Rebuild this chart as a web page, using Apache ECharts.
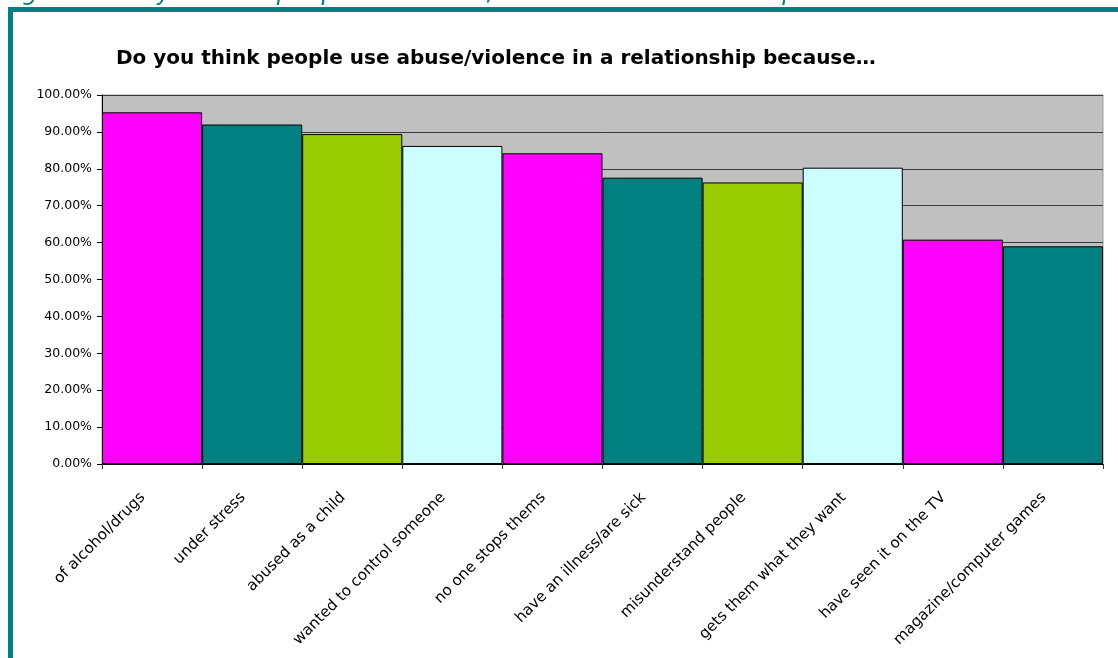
<!DOCTYPE html>
<html>
<head>
<meta charset="utf-8">
<script src="https://cdn.jsdelivr.net/npm/echarts@6/dist/echarts.min.js"></script>
<style>
html,body{margin:0;padding:0;background:#fff;}
#chart{width:1118px;height:658px;}
</style>
</head>
<body>
<div id="chart"></div>
<script>
const categories = ["of alcohol/drugs","under stress","abused as a child","wanted to control someone","no one stops thems","have an illness/are sick","misunderstand people","gets them what they want","have seen it on the TV","magazine/computer games"];
const values = [95.3, 92.0, 89.4, 86.2, 84.2, 77.6, 76.3, 80.3, 60.8, 59.0];
const barColors = ["#ff00ff","#008080","#99cc00","#ccffff","#ff00ff","#008080","#99cc00","#ccffff","#ff00ff","#008080"];

const FONT = '"DejaVu Sans", "Liberation Sans", Arial';
const chart = echarts.init(document.getElementById('chart'));
chart.setOption({
  animation: false,
  backgroundColor: '#ffffff',
  title: {
    text: 'Do you think people use abuse/violence in a relationship because…',
    left: 111, top: 44,
    textStyle: {fontFamily: FONT, fontSize: 20, fontWeight: 'bold', color: '#000'}
  },
  graphic: [
    {type: 'text', left: 2, top: -18, z: 1, style: {text: 'Figure 3: Do you think people use abuse/violence in a relationship because…', font: 'italic 24px "DejaVu Sans", Arial', fill: '#008080'}},
    {type: 'rect', z: 2, shape: {x: 8, y: 7, width: 1110, height: 5}, style: {fill: '#008080'}},
    {type: 'rect', z: 2, shape: {x: 8, y: 7, width: 5, height: 660}, style: {fill: '#008080'}}
  ],
  grid: {left: 102, right: 15, top: 95, bottom: 194, show: true, backgroundColor: '#c0c0c0', borderColor: '#999999', borderWidth: 1},
  xAxis: {
    type: 'category',
    data: categories,
    axisLine: {lineStyle: {color: '#000', width: 1}},
    axisTick: {show: true, length: 5, lineStyle: {color: '#333'}},
    axisLabel: {rotate: 45, interval: 0, fontFamily: FONT, fontSize: 15.2, color: '#000', margin: 22, padding: [0, 13, 0, 0]}
  },
  yAxis: {
    type: 'value', min: 0, max: 100, interval: 10,
    axisLine: {show: true, lineStyle: {color: '#000'}},
    axisTick: {show: true, length: 5, lineStyle: {color: '#000'}},
    splitLine: {lineStyle: {color: '#3a3a3a', width: 1}},
    axisLabel: {formatter: v => v.toFixed(2) + '%', fontFamily: FONT, fontSize: 12.5, color: '#000', margin: 10}
  },
  series: [{
    type: 'bar',
    data: values.map((v, i) => ({value: v, itemStyle: {color: barColors[i]}})),
    barCategoryGap: '0%',
    itemStyle: {borderColor: '#000', borderWidth: 1}
  }]
});
</script>
</body>
</html>
